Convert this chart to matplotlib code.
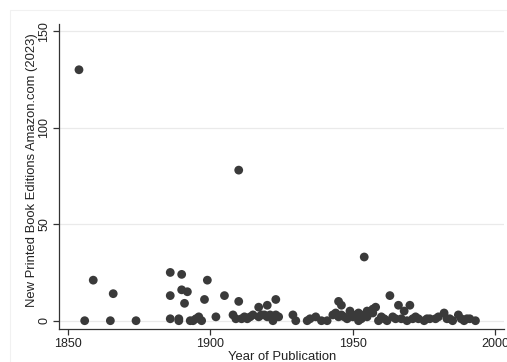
import matplotlib
matplotlib.use('Agg')
import matplotlib.pyplot as plt
from matplotlib.patches import Rectangle

# ==========================================
# data
# ==========================================
years = [
    1854, 1856, 1859, 1865, 1866, 1874,
    1886, 1886, 1886, 1889, 1889, 1890, 1890, 1891, 1892, 1893, 1894, 1895,
    1896, 1897, 1898, 1899, 1902, 1905, 1908, 1909, 1910, 1910,
    1911, 1912, 1913, 1914, 1915, 1917, 1917, 1918, 1919, 1920, 1920, 1921,
    1922, 1923, 1923, 1924, 1929, 1930, 1934, 1935, 1937, 1939, 1941,
    1943, 1944, 1945, 1945, 1946, 1946, 1947, 1948, 1949, 1950, 1950,
    1952, 1952, 1953, 1954, 1954, 1955, 1955, 1957, 1957, 1958, 1959,
    1960, 1961, 1962, 1963, 1964, 1965, 1966, 1967, 1968, 1969, 1970,
    1971, 1972, 1973, 1975, 1976, 1977, 1979, 1980, 1982, 1983, 1984,
    1985, 1987, 1988, 1989, 1990, 1991, 1993,
]
editions = [
    130, 0, 21, 0, 14, 0,
    25, 13, 1, 0, 1, 24, 16, 9, 15, 0, 0, 1,
    2, 0, 11, 21, 2, 13, 3, 1, 10, 78,
    1, 2, 1, 2, 3, 7, 2, 3, 3, 8, 2, 3,
    0, 11, 3, 2, 3, 0, 0, 1, 2, 0, 0,
    3, 4, 2, 10, 8, 3, 2, 1, 5, 2, 3,
    0, 4, 1, 33, 3, 2, 5, 4, 6, 7, 0,
    2, 1, 0, 13, 2, 1, 8, 1, 5, 0, 8,
    1, 2, 1, 0, 1, 1, 1, 2, 4, 1, 1,
    0, 3, 1, 0, 1, 1, 0,
]

x_ticks = [1850, 1900, 1950, 2000]
y_ticks = [0, 50, 100, 150]

plt.rcParams['font.family'] = ['Liberation Sans', 'DejaVu Sans']

fig = plt.figure(figsize=(5.07, 3.62), dpi=100)
W, H = 507, 362
ax = fig.add_axes([59.3 / W, 1 - 329 / H, (504 - 59.3) / W, (329 - 24) / H])

# faint outer graph frame (stata style)
fig.patches.append(Rectangle((10 / W, -0.1), 1.2, 1 - 10 / H + 0.1,
                             transform=fig.transFigure, fill=False,
                             edgecolor='#f1f1f1', lw=0.8))

ax.scatter(years, editions, s=40, color='#3a3a3a', edgecolors='none', zorder=3)

ax.set_xlim(1847.1, 2003.0)
ax.set_ylim(-4.3, 153.7)
ax.set_xticks(x_ticks)
ax.set_yticks(y_ticks)
ax.grid(axis='y', color='#eaeaea', lw=0.9, zorder=0)

for s in ['top', 'right']:
    ax.spines[s].set_visible(False)
for s in ['left', 'bottom']:
    ax.spines[s].set_color('#333333')
    ax.spines[s].set_linewidth(0.9)

ax.tick_params(axis='both', length=4.5, width=0.9, color='#333333',
               labelsize=9, labelcolor='#222222')
ax.tick_params(axis='x', pad=2)
ax.tick_params(axis='y', pad=2)
plt.setp(ax.get_yticklabels(), rotation=90, va='center')

ax.set_xlabel('Year of Publication', fontsize=9.4, color='#222222', labelpad=1)
ax.set_ylabel('New Printed Book Editions Amazon.com (2023)', fontsize=9.4,
              color='#222222')
ax.yaxis.set_label_coords(-0.049, 0.521)

fig.savefig('out.png', dpi=100)
